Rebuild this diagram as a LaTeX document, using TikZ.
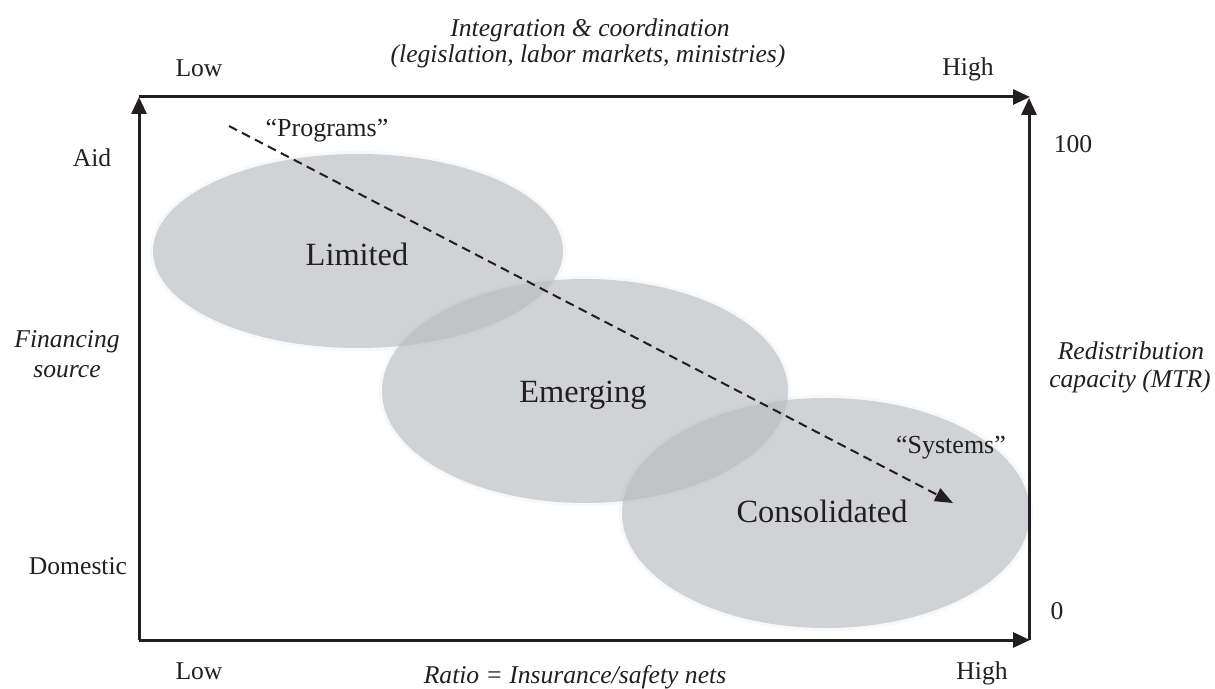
\documentclass[tikz,border=0pt]{standalone}
\usepackage{fontspec}
\setmainfont{Liberation Serif}
\usetikzlibrary{arrows.meta}
\definecolor{ink}{RGB}{35,31,32}
\definecolor{blob}{RGB}{186,188,193}
\tikzset{
  axis/.style={draw=ink, line width=1.5pt, -{Triangle[length=8.5pt,width=7.5pt]}},
  lbl/.style={anchor=base, inner sep=0pt, text=ink, font=\fontsize{12.8}{15}\selectfont},
  ilbl/.style={lbl, font=\fontsize{12.8}{15}\selectfont\itshape},
  stage/.style={anchor=base, inner sep=0pt, text=ink, font=\fontsize{16.2}{19}\selectfont},
  blobfill/.style={fill=blob, fill opacity=0.62},
  halo/.style={fill=blob, fill opacity=0.10},
  pathline/.style={draw=ink, line width=1pt, dash pattern=on 4.5pt off 2.8pt,
    -{Triangle[length=9pt,width=7pt]}}
}
\begin{document}
\begin{tikzpicture}[x=0.5pt,y=-0.5pt]
\useasboundingbox (0,0) rectangle (1215,689);
\fill[white] (0,0) rectangle (1215,689);
% ellipses (soft edges)
\foreach \cx/\cy/\rx/\ry in {358/251/205/97, 585/391/203/112, 826/513/204/115}{
  \fill[halo] (\cx,\cy) ellipse [x radius=\rx+3, y radius=\ry+3];
  \fill[blobfill] (\cx,\cy) ellipse [x radius=\rx, y radius=\ry];
}
% corners
\coordinate (bl) at (139,640);
\coordinate (tl) at (139,97);
\coordinate (tr) at (1030,97);
\coordinate (br) at (1030,640);
\coordinate (rb) at (1029,640);
\coordinate (rt) at (1029,98);
\draw[axis] (bl) -- (tl);
\draw[axis] (tl) -- (tr);
\draw[axis] (rb) -- (rt);
\draw[axis] (bl) -- (br);
% path arrow
\coordinate (ps) at (229,126);
\coordinate (pe) at (953,503);
\draw[pathline] (ps) -- (pe);
% stage labels
\node[stage] (lim) at (357,266) {Limited};
\node[stage] (eme) at (583,402) {Emerging};
\node[stage] (con) at (822,522) {Consolidated};
\node[lbl, font=\fontsize{13}{15}\selectfont] (prog) at (327,137) {“Programs”};
\node[lbl, font=\fontsize{13}{15}\selectfont] (sys) at (951,453) {“Systems”};
% top labels
\node[ilbl] (t1) at (590,37) {Integration \& coordination};
\node[ilbl] (t2) at (588,63) {(legislation, labor markets, ministries)};
\node[lbl] (tlow) at (199,77) {Low};
\node[lbl] (thigh) at (968,76) {High};
% left labels
\node[lbl] (aid) at (92,167) {Aid};
\node[lbl] (dom) at (78,574) {Domestic};
\node[ilbl] (f1) at (67,348) {Financing};
\node[ilbl] (f2) at (67,378) {source};
% right labels
\node[lbl] (hun) at (1073,153) {100};
\node[lbl] (zer) at (1057,619) {0};
\node[ilbl] (r1) at (1131,360) {Redistribution};
\node[ilbl] (r2) at (1130,387) {capacity (MTR)};
% bottom labels
\node[lbl] (blow) at (199,679) {Low};
\node[lbl] (bhigh) at (982,679) {High};
\node[ilbl] (ratio) at (575,683) {Ratio = Insurance/safety nets};
\end{tikzpicture}
\end{document}
